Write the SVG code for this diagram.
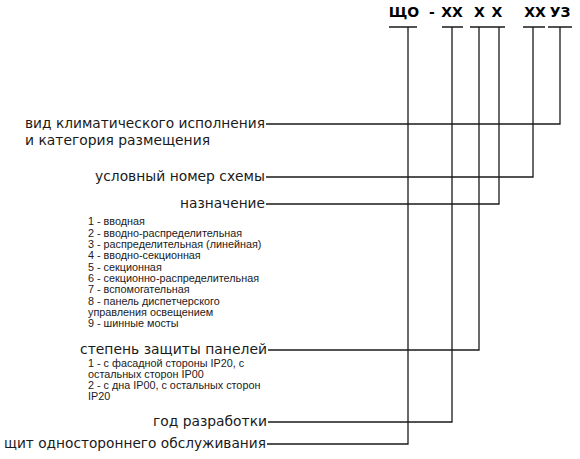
<svg xmlns="http://www.w3.org/2000/svg" width="580" height="459" viewBox="0 0 580 459">
<style>
.code{font-family:"DejaVu Sans",sans-serif;font-weight:bold;font-size:14px;fill:#000;text-anchor:middle}
.lbl{font-family:"DejaVu Sans",sans-serif;font-size:14px;fill:#1a1a1a;text-anchor:end}
.lbl2{font-family:"DejaVu Sans",sans-serif;font-size:14px;fill:#1a1a1a}
.sm{font-family:"Liberation Sans",Arial,sans-serif;font-size:10.8px;fill:#1a1a1a}
.ln{stroke:#1a1a1a;stroke-width:1.3;fill:none}
</style>
<rect width="580" height="459" fill="#fff"/>
<g id="code">
<text class="code" x="404" y="17">ЩО</text>
<text class="code" x="432" y="17">-</text>
<text class="code" x="452" y="17">ХХ</text>
<text class="code" x="479.5" y="17">Х</text>
<text class="code" x="497" y="17">Х</text>
<text class="code" x="535" y="17">ХХ</text>
<text class="code" x="560" y="17">УЗ</text>
</g>
<g id="connectors">
<path class="ln" d="M389 27H417M442 27H463M470 27H490M490 27H505M523 27H545M548 27H572"/>
<path class="ln" d="M408 27V444H267"/>
<path class="ln" d="M452 27V422H268"/>
<path class="ln" d="M479 27V350H268"/>
<path class="ln" d="M499 27V204H266"/>
<path class="ln" d="M533 27V177H266"/>
<path class="ln" d="M560 27V124H266"/>
</g>
<g id="climate">
<text class="lbl" x="265" y="127.5" textLength="240" lengthAdjust="spacingAndGlyphs">вид климатического исполнения</text>
<text class="lbl2" x="25" y="145" textLength="185" lengthAdjust="spacingAndGlyphs">и категория размещения</text>
</g>
<g id="scheme">
<text class="lbl" x="265" y="180.5" textLength="170" lengthAdjust="spacingAndGlyphs">условный номер схемы</text>
</g>
<g id="purpose">
<text class="lbl" x="265" y="207.5" textLength="85" lengthAdjust="spacingAndGlyphs">назначение</text>
<text class="sm" x="88" y="225">1 - вводная</text>
<text class="sm" x="88" y="236.5">2 - вводно-распределительная</text>
<text class="sm" x="88" y="248">3 - распределительная (линейная)</text>
<text class="sm" x="88" y="259.3">4 - вводно-секционная</text>
<text class="sm" x="88" y="270.7">5 - секционная</text>
<text class="sm" x="88" y="282">6 - секционно-распределительная</text>
<text class="sm" x="88" y="293.3">7 - вспомогательная</text>
<text class="sm" x="88" y="304.7">8 - панель диспетчерского</text>
<text class="sm" x="88" y="316">управления освещением</text>
<text class="sm" x="88" y="327.3">9 - шинные мосты</text>
</g>
<g id="protection">
<text class="lbl" x="267" y="353.5" textLength="187" lengthAdjust="spacingAndGlyphs">степень защиты панелей</text>
<text class="sm" x="88" y="366.5">1 - с фасадной стороны IP20, с</text>
<text class="sm" x="88" y="377.8">остальных сторон IP00</text>
<text class="sm" x="88" y="389">2 - с дна IP00, с остальных сторон</text>
<text class="sm" x="88" y="400.3">IP20</text>
</g>
<g id="year">
<text class="lbl" x="267" y="425.5" textLength="114" lengthAdjust="spacingAndGlyphs">год разработки</text>
</g>
<g id="panel">
<text class="lbl" x="266" y="447.5" textLength="262" lengthAdjust="spacingAndGlyphs">щит одностороннего обслуживания</text>
</g>
</svg>
